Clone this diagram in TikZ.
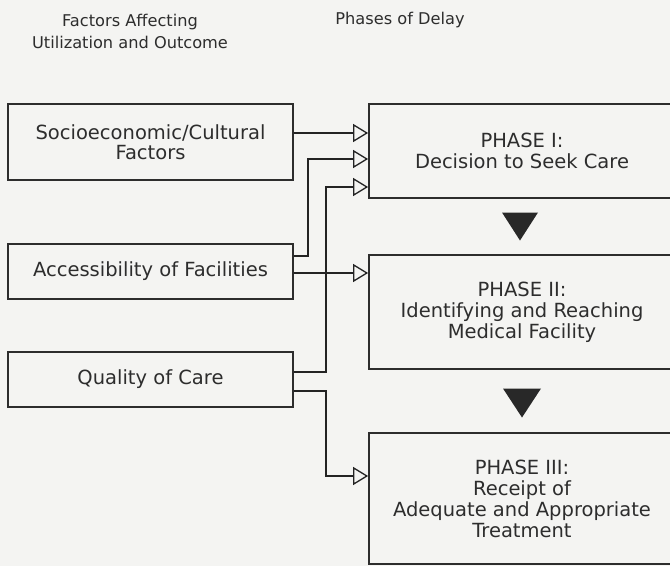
\documentclass[tikz,border=0pt]{standalone}
\usepackage{fontspec}
\setmainfont{DejaVu Sans}
\usetikzlibrary{arrows.meta,calc}

\definecolor{paper}{RGB}{244,244,242}
\definecolor{ink}{RGB}{45,45,45}
\definecolor{wire}{RGB}{35,35,35}

\tikzset{
  factorbox/.style={draw=ink, line width=1.8pt, fill=paper, inner sep=0pt,
    minimum width=285pt, align=center, text=ink,
    font=\fontsize{19.5}{20.5}\selectfont},
  phasebox/.style={factorbox, minimum width=306pt, font=\fontsize{19.5}{21}\selectfont},
  heading/.style={align=center, text=ink, font=\fontsize{16.2}{22}\selectfont},
  conn/.style={draw=wire, line width=2.8pt,
    -{Triangle[open, length=15pt, width=18pt, line width=1.3pt]}},
  stepmark/.style={fill=ink!90!black}
}

\begin{document}
\begin{tikzpicture}[x=1pt, y=-1pt]
  \useasboundingbox (0,0) rectangle (670,566);
  \clip (0,0) rectangle (670,566);
  \fill[paper] (0,0) rectangle (670,566);

  % column headings
  \node[heading] (hleft) at (130,31) {Factors Affecting\\Utilization and Outcome};
  \node[heading] (hright) at (400,20) {Phases of Delay};

  % factors
  \node[factorbox, minimum height=76pt] (soc) at (150.5,142) {Socioeconomic/Cultural\\Factors};
  \node[factorbox, minimum height=55pt] (acc) at (150.5,271.5) {Accessibility of Facilities};
  \node[factorbox, minimum height=55pt] (qual) at (150.5,379.5) {Quality of Care};

  % phases (running off the right edge)
  \node[phasebox, minimum height=94pt] (p1) at (522,151) {PHASE I:\\Decision to Seek Care};
  \node[phasebox, minimum height=114pt] (p2) at (522,312) {PHASE II:\\Identifying and Reaching\\Medical Facility};
  \node[phasebox, minimum height=131pt] (p3) at (522,498.5) {PHASE III:\\Receipt of\\Adequate and Appropriate\\Treatment};

  % solid markers between phases
  \coordinate (m1) at ($(p1.south)!0.5!(p2.north)+(-2,0)$);
  \coordinate (m2) at ($(p2.south)!0.5!(p3.north)+(0,2)$);
  \fill[stepmark] (m1) +(-18,-14) -- +(18,-14) -- +(0,14) -- cycle;
  \fill[stepmark] (m2) +(-19,-14.5) -- +(19,-14.5) -- +(0,14.5) -- cycle;

  % connectors
  \draw[conn] ([yshift=9pt]soc.east) -- ([yshift=9pt]soc.east -| p1.west);
  \draw[conn] ([yshift=15.5pt]acc.east) -- ++(14,0) |- ([yshift=-8pt]p1.west);
  \draw[conn] ([yshift=7.5pt]qual.east) -- ++(32,0) |- ([yshift=-36pt]p1.west);
  \draw[conn] ([yshift=-1.5pt]acc.east) -- ([yshift=-1.5pt]acc.east -| p2.west);
  \draw[conn] ([yshift=-11.5pt]qual.east) -- ++(32,0) |- ([yshift=22.5pt]p3.west);
\end{tikzpicture}
\end{document}
